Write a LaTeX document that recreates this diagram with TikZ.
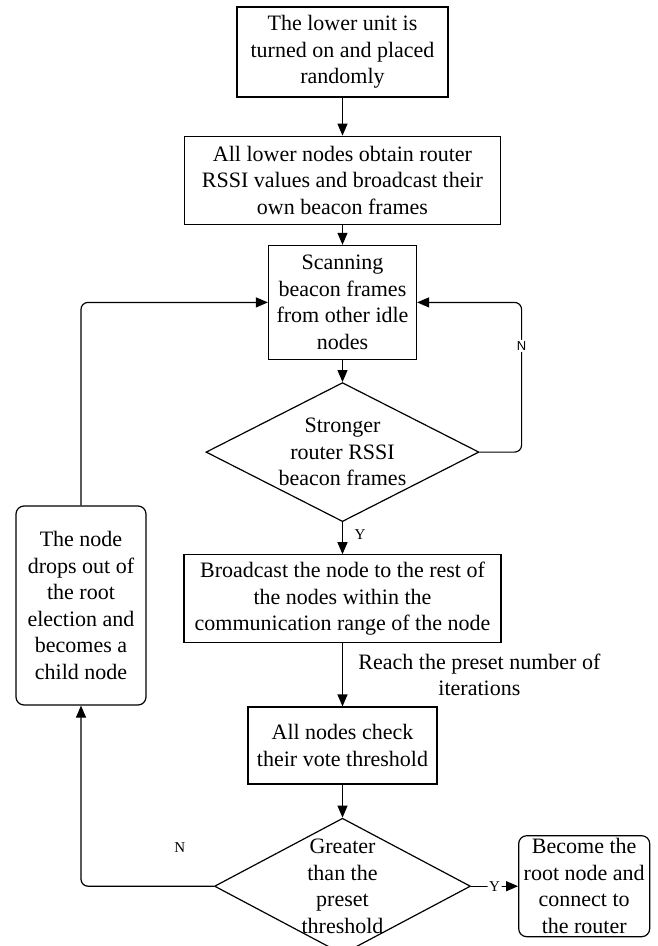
\documentclass[tikz,border=0pt]{standalone}
\usepackage{fontspec}
\setmainfont{Liberation Serif}
\newfontfamily\labelsans{Liberation Sans}
\usetikzlibrary{arrows.meta, positioning, shapes.geometric}

\begin{document}
\begin{tikzpicture}[
    x=1pt, y=1pt,
    font=\fontsize{22}{26.5}\selectfont,
    stepbox/.style={rectangle, draw, line width=1.2pt, align=center, inner sep=3pt},
    endbox/.style={stepbox, rounded corners=8pt},
    decision/.style={diamond, draw, line width=1.2pt, align=center,
      aspect=1.95, inner sep=-5pt},
    yn/.style={font=\fontsize{15}{18}\selectfont, inner sep=1.5pt},
    nsans/.style={font=\labelsans\fontsize{13}{16}\selectfont, inner sep=1.5pt},
    arrow/.style={line width=1.2pt, -{Triangle[length=12pt, width=10pt]},
      rounded corners=7pt}
]
\useasboundingbox (0,0) rectangle (657,-946);

\node[stepbox, minimum width=211pt, minimum height=90pt] (start) at (342.5,-52)
  {The lower unit is\\turned on and placed\\randomly};
\node[stepbox, minimum width=316pt, minimum height=88pt, below=38pt of start] (obtain)
  {All lower nodes obtain router\\RSSI values and broadcast their\\own beacon frames};
\node[stepbox, minimum width=148pt, minimum height=114pt, below=20pt of obtain] (scan)
  {Scanning\\beacon frames\\from other idle\\nodes};
\node[decision, minimum width=273pt, minimum height=139pt, below=22pt of scan] (stronger)
  {Stronger\\router RSSI\\beacon frames};
\node[stepbox, minimum width=317pt, minimum height=88pt, below=32pt of stronger] (bcast)
  {Broadcast the node to the rest of\\the nodes within the\\communication range of the node};
\node[stepbox, minimum width=189pt, minimum height=77pt, below=63pt of bcast] (check)
  {All nodes check\\their vote threshold};
\node[decision, minimum width=256pt, minimum height=136pt, below=33pt of check] (greater)
  {Greater\\than the\\preset\\threshold};
\node[endbox, minimum width=131pt, minimum height=100pt, right=47pt of greater] (root)
  {Become the\\root node and\\connect to\\the router};
\node[endbox, minimum width=130pt, minimum height=199pt] (drop) at (81,-605.5)
  {The node\\drops out of\\the root\\election and\\becomes a\\child node};

\draw[arrow] (start) -- (obtain);
\draw[arrow] (obtain) -- (scan);
\draw[arrow] (scan) -- (stronger);
\draw[arrow] (stronger) -- node[yn, right=10pt, pos=0.375] {Y} (bcast);
\draw[arrow] (bcast) -- node[align=center, right=12pt]
  {Reach the preset number of\\iterations} (check);
\draw[arrow] (check) -- (greater);
\draw[arrow] (greater) -- node[yn, fill=white] {Y} (root);
\draw[arrow] (stronger.east) -- ++(42,0) |- node[nsans, pos=0.355, fill=white] {N} (scan.east);
\draw[arrow] (greater.west) -| node[yn, pos=0.128, above=32pt] {N} (drop.south);
\draw[arrow] (drop.north) |- (scan.west);
\end{tikzpicture}
\end{document}
